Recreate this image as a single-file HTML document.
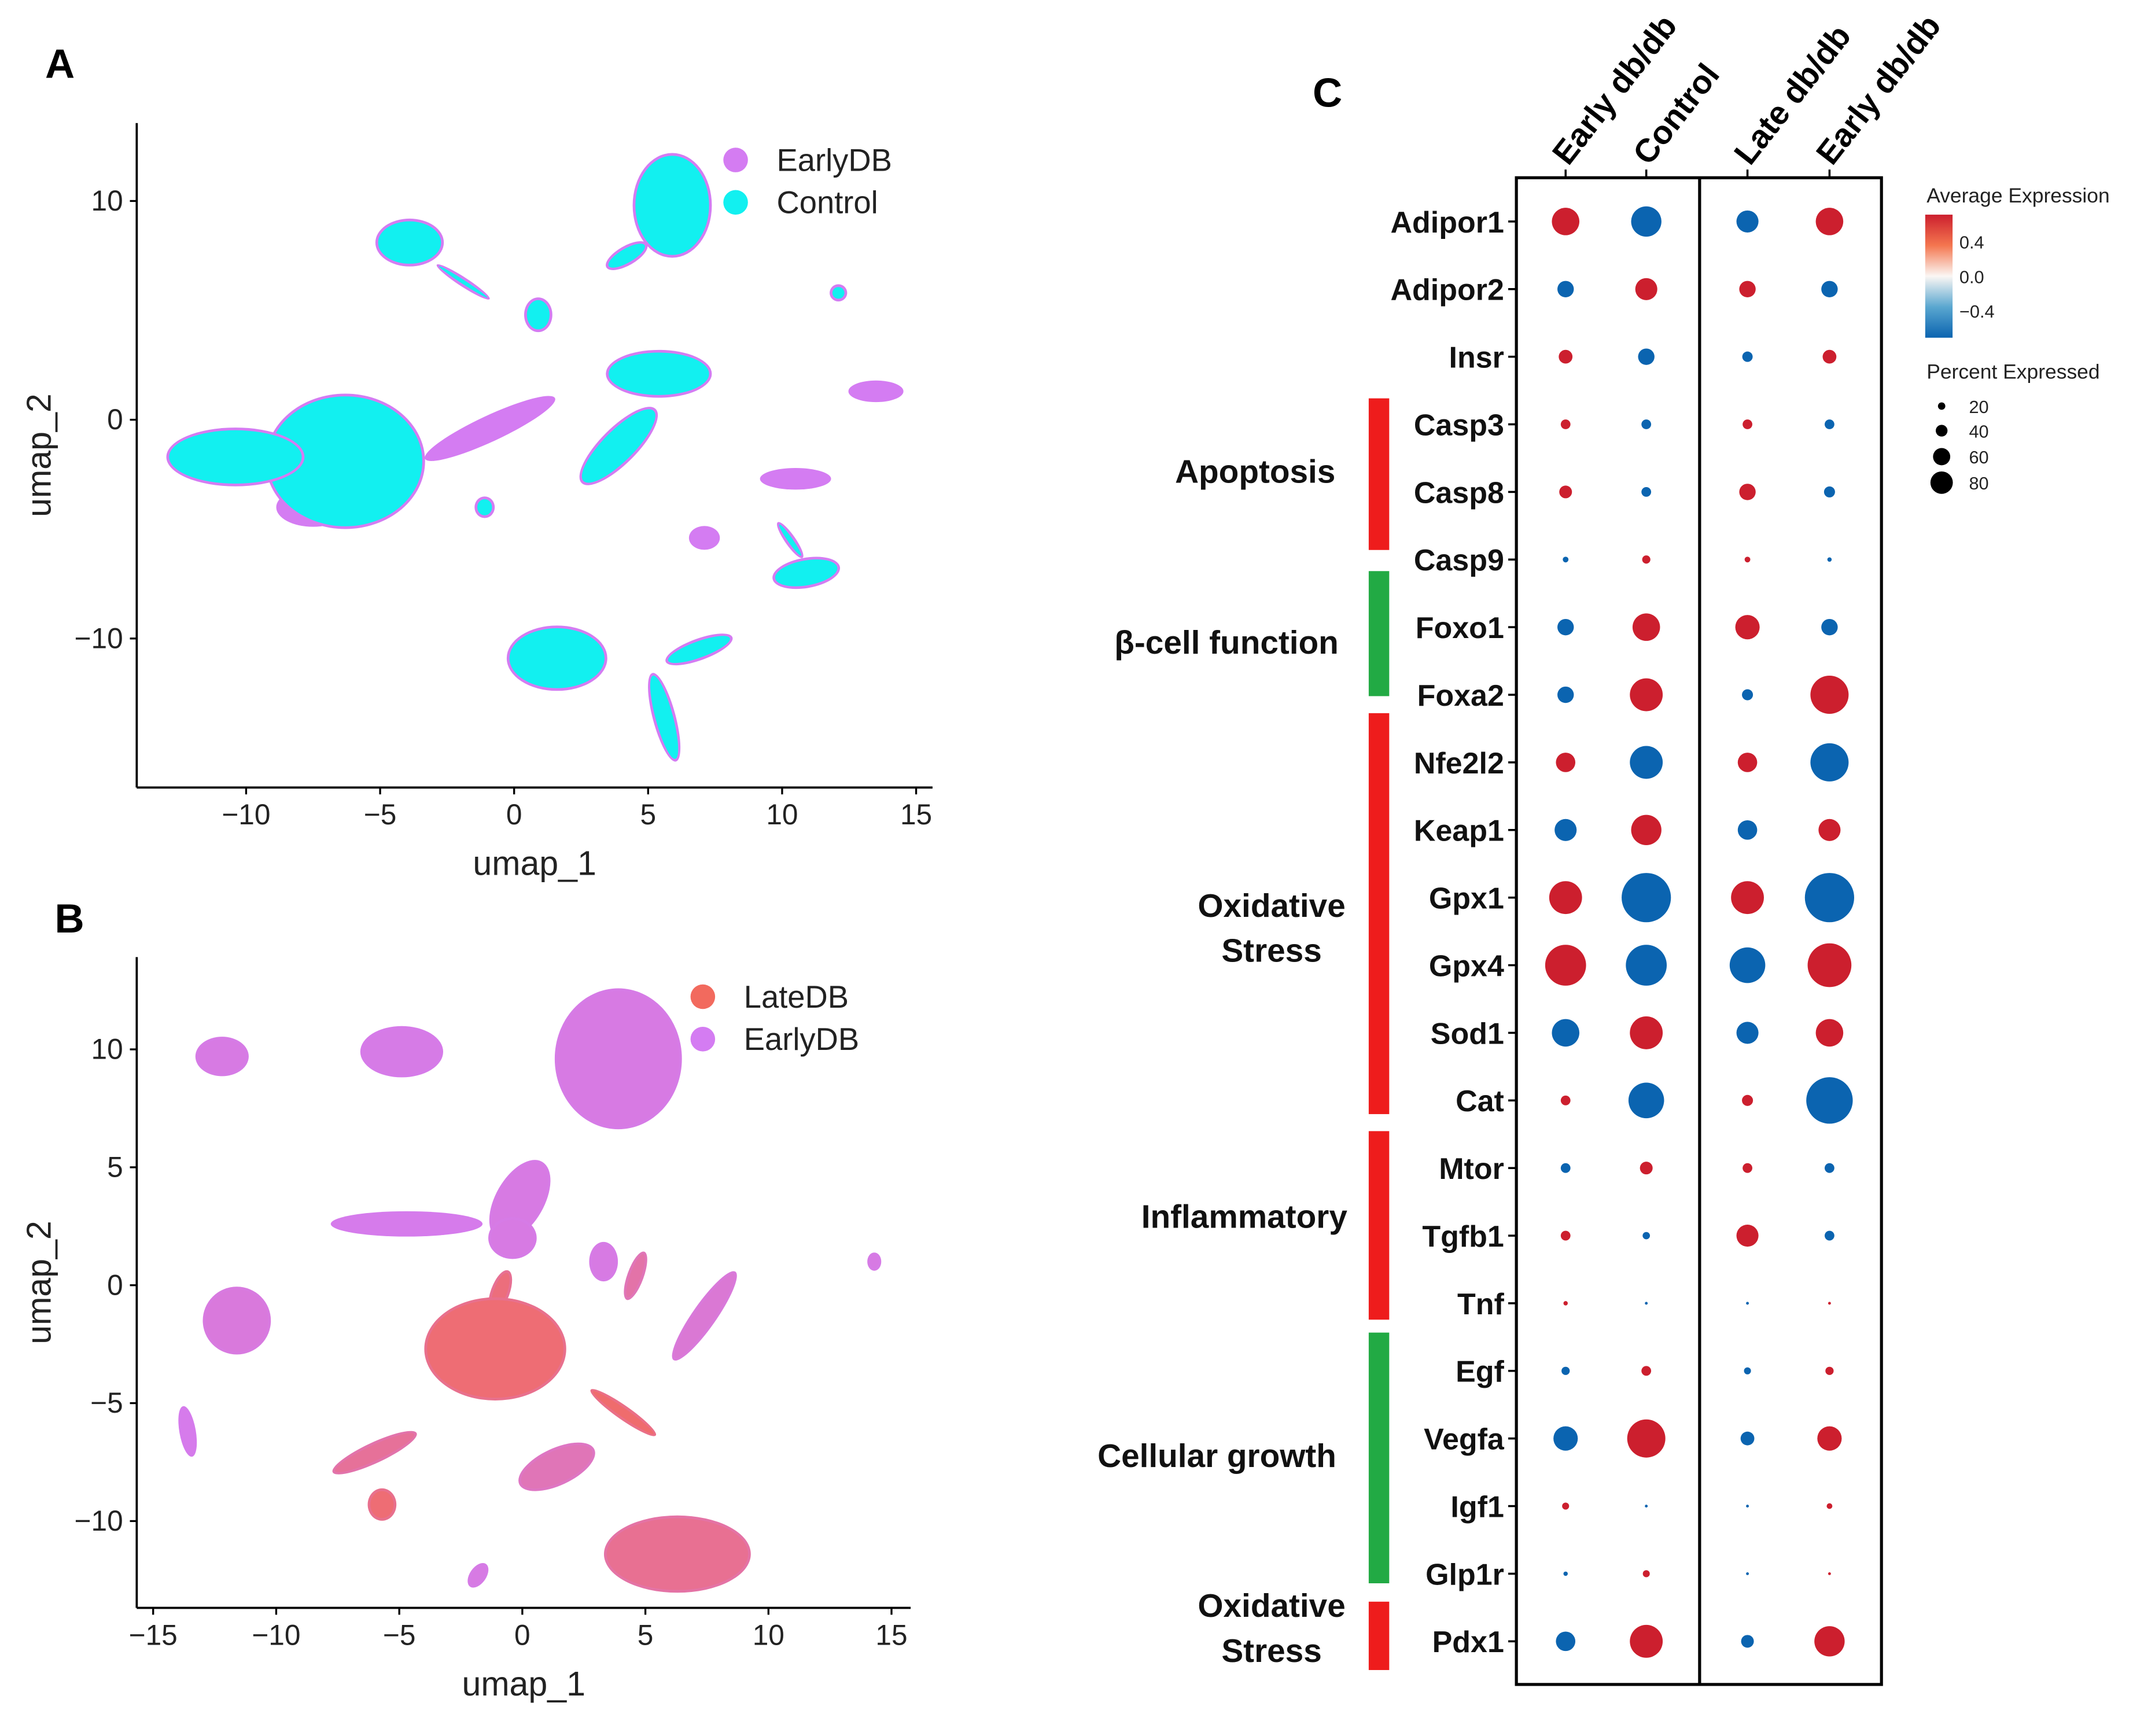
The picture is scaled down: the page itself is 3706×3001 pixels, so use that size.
<!DOCTYPE html>
<html><head><meta charset="utf-8"><style>
html,body{margin:0;padding:0;background:#fff;}
svg{display:block;font-family:"Liberation Sans",Arial,sans-serif;}
</style></head><body>
<svg id="fig" width="3706" height="3001" viewBox="0 0 1568 1269.7" preserveAspectRatio="none" xmlns="http://www.w3.org/2000/svg">
<defs>
<linearGradient id="grad" x1="0" y1="0" x2="0" y2="1">
<stop offset="0" stop-color="#cc1f2e"/><stop offset="0.25" stop-color="#f4764f"/><stop offset="0.5" stop-color="#fbf7f4"/><stop offset="0.75" stop-color="#5aa7d0"/><stop offset="1" stop-color="#0b64b0"/>
</linearGradient>
</defs>
<g id="pa"></g>
<g id="pb"></g>
<g id="pc"></g>
</svg>
<script>
// ---------- Panel A data (umap coords) ----------
const aClustX=[-7.5,-0.9,-6.3,-10.4,-3.9,-1.9,5.9,4.2,0.9,5.4,3.9,13.5,12.1,10.5,7.1,10.9,10.3,-1.1,1.6,6.9,5.6];
const aClustY=[-4.0,-0.4,-1.9,-1.7,8.1,6.3,9.8,7.5,4.8,2.1,-1.2,1.3,5.8,-2.7,-5.4,-7.0,-5.5,-4.0,-10.9,-10.5,-13.6];
const aClustRX=[1.3,2.6,2.9,2.5,1.2,1.1,1.4,0.8,0.45,1.9,0.6,0.95,0.25,1.25,0.5,1.2,0.12,0.3,1.8,1.25,0.35];
const aClustRY=[0.8,0.5,3.0,1.25,1.0,0.12,2.3,0.35,0.7,1.0,2.3,0.4,0.3,0.4,0.45,0.6,0.9,0.4,1.4,0.4,2.0];
const aClustRot=[0,-25,0,0,0,33,0,-30,0,0,45,0,0,0,0,-10,-35,0,0,-20,-15];
const aClustCyan=[0,0,1,1,1,1,1,1,1,1,1,0,1,0,0,1,1,1,1,1,1];
const aXTicks=[-10,-5,0,5,10,15];
const aYTicks=[10,0,-10];
// ---------- Panel B data ----------
const bClustX=[3.9,-12.2,-4.9,-4.7,-0.1,-0.9,-1.1,-11.6,6.3,7.4,3.3,4.6,-13.6,-6.0,-5.7,1.4,4.1,-1.8,14.3,-0.4];
const bClustY=[9.6,9.7,9.9,2.6,3.6,-0.3,-2.7,-1.5,-11.4,-1.3,1.0,0.4,-6.2,-7.1,-9.3,-7.7,-5.4,-12.3,1.0,2.0];
const bClustRX=[2.5,1.0,1.6,3.0,0.9,0.3,2.8,1.3,2.9,0.4,0.5,0.25,0.25,1.8,0.5,1.6,0.2,0.25,0.2,0.9];
const bClustRY=[2.9,0.75,1.0,0.45,1.8,0.9,2.1,1.35,1.55,2.2,0.75,1.0,1.0,0.35,0.6,0.7,1.6,0.5,0.3,0.8];
const bClustRed=[0.1,0.1,0.08,0.05,0.1,0.8,0.85,0.15,0.65,0.2,0.1,0.5,0.05,0.6,0.85,0.4,0.9,0.1,0.1,0.1];
const bClustRot=[0,0,0,0,30,20,0,0,0,35,0,20,-10,-25,0,-25,-55,35,0,0];
const bXTicks=[-15,-10,-5,0,5,10,15];
const bYTicks=[10,5,0,-5,-10];
// ---------- Panel C data ----------
const genes=["Adipor1","Adipor2","Insr","Casp3","Casp8","Casp9","Foxo1","Foxa2","Nfe2l2","Keap1","Gpx1","Gpx4","Sod1","Cat","Mtor","Tgfb1","Tnf","Egf","Vegfa","Igf1","Glp1r","Pdx1"];
const groups=["Early db/db","Control","Late db/db","Early db/db"];
const pct=[
[28,34,18,28],[10,18,10,10],[7,10,4,7],[3.5,3.5,3.5,3.5],[6,3.5,10,4.5],[1.2,2.5,1.2,0.7],
[10,28,22,10],[10,40,4.5,54],[14,40,14,54],[18,34,14,18],[40,90,40,90],[62,62,47,71],
[28,40,18,28],[3.5,47,4.5,80],[3.5,6,3.5,3.5],[3.5,2,18,3.5],[0.7,0.3,0.3,0.3],[2.5,3.5,1.8,2.5],
[22,54,7,22],[1.8,0.3,0.3,1.2],[0.7,1.8,0.3,0.3],[14,40,6,34]];
const expr=[
[1,-1,-1,1],[-1,1,1,-1],[1,-1,-1,1],[1,-1,1,-1],[1,-1,1,-1],[-1,1,1,-1],
[-1,1,1,-1],[-1,1,-1,1],[1,-1,1,-1],[-1,1,-1,1],[1,-1,1,-1],[1,-1,-1,1],
[-1,1,-1,1],[1,-1,1,-1],[-1,1,1,-1],[1,-1,1,-1],[1,-1,-1,1],[-1,1,-1,1],
[-1,1,-1,1],[1,-1,-1,1],[-1,1,-1,1],[-1,1,-1,1]];
const categories=[["Apoptosis",3,5,"#ee1c1c"],["β-cell function",6,7,"#22aa44"],["Oxidative\nStress",8,13,"#ee1c1c"],["Inflammatory",14,16,"#ee1c1c"],["Cellular growth",17,20,"#22aa44"],["Oxidative\nStress",21,21,"#ee1c1c"]];
const colorTicks=[0.4,0.0,-0.4];
const sizeLegend=[20,40,60,80];
// layout (not data)
const catTopPad=[-19,-41,-36,-27,-28,-29];
const catBotPad=[-7,1,10,12,7,21];
const catLabelY=[353,478,687,898,1073,1199];
const catLabelX=[918,897,930,910,890,930];

const NS="http://www.w3.org/2000/svg";
function mk(p,t,a,txt){const e=document.createElementNS(NS,t);for(const k in a)e.setAttribute(k,a[k]);if(txt!==undefined)e.textContent=txt;p.appendChild(e);return e;}

function umapPanel(g,o){
  const sx=v=>o.x0+v*o.kx, sy=v=>o.y0-v*o.ky;
  for(let i=0;i<o.cx.length;i++){
    const cx=sx(o.cx[i]),cy=sy(o.cy[i]),rx=o.rx[i]*o.kx,ry=o.ry[i]*o.ky;
    const tr=`rotate(${o.rot[i]} ${cx} ${cy})`;
    const e1=mk(g,'ellipse',{cx,cy,rx:rx+1.5,ry:ry+1.5,fill:o.outer(i),transform:tr});
    
    
    const e2=mk(g,'ellipse',{cx,cy,rx:Math.max(rx-0.5,0.5),ry:Math.max(ry-0.5,0.5),fill:o.inner(i),transform:tr});
    
    
  }
  mk(g,'line',{x1:o.L,y1:o.T,x2:o.L,y2:o.B,stroke:'#000','stroke-width':1.6});
  mk(g,'line',{x1:o.L,y1:o.B,x2:o.R,y2:o.B,stroke:'#000','stroke-width':1.6});
  o.xt.forEach(v=>{const x=sx(v);mk(g,'line',{x1:x,y1:o.B,x2:x,y2:o.B+5,stroke:'#000','stroke-width':1.4});
    const t=mk(g,'text',{x,y:o.B+27,'font-size':21,'text-anchor':'middle',fill:'#222'},v<0?'−'+(-v):String(v));
    });
  o.yt.forEach(v=>{const y=sy(v);mk(g,'line',{x1:o.L-5,y1:y,x2:o.L,y2:y,stroke:'#000','stroke-width':1.4});
    const t=mk(g,'text',{x:o.L-10,y:y+7,'font-size':21,'text-anchor':'end',fill:'#222'},v<0?'−'+(-v):String(v));
    });
  const xt=mk(g,'text',{x:(o.L+o.R)/2,y:o.B+64,'font-size':25,'text-anchor':'middle',fill:'#222'},'umap_1');
  
  const yt=mk(g,'text',{x:0,y:0,'font-size':25,'text-anchor':'middle',fill:'#222',transform:`translate(${o.L-63},${(o.T+o.B)/2}) rotate(-90)`},'umap_2');
  
  const pl=mk(g,'text',{x:o.lx,y:o.ly,'font-size':30,'font-weight':'bold'},o.label);
  
  o.legend.forEach((l,i)=>{
    const c=mk(g,'circle',{cx:o.legX,cy:o.legY+i*31,r:9,fill:l[1]});
    
    const t=mk(g,'text',{x:o.legX+30,y:o.legY+i*31+8,'font-size':23,fill:'#222'},l[0]);
    
  });
}
const PUR='#d47cf2',CY='#12f0f0',RED='#f26a5e';
umapPanel(document.getElementById('pa'),{x0:376,kx:19.6,y0:307,ky:16,L:100,R:682,T:90,B:576,
  cx:aClustX,cy:aClustY,rx:aClustRX,ry:aClustRY,rot:aClustRot,xt:aXTicks,yt:aYTicks,
  outer:()=>PUR,inner:i=>aClustCyan[i]?CY:PUR,label:'A',lx:33,ly:57,legX:538,legY:117,legend:[['EarlyDB',PUR],['Control',CY]]});
function mix(a,b,t){const p=s=>[1,3,5].map(i=>parseInt(s.substr(i,2),16));const A=p(a),B=p(b);return 'rgb('+A.map((v,i)=>Math.round(v+(B[i]-v)*t)).join(',')+')';}
umapPanel(document.getElementById('pb'),{x0:382,kx:18,y0:940,ky:17.25,L:100,R:666,T:700,B:1176,
  cx:bClustX,cy:bClustY,rx:bClustRX,ry:bClustRY,rot:bClustRot,xt:bXTicks,yt:bYTicks,
  outer:i=>mix(PUR,RED,bClustRed[i]*0.8),inner:i=>mix(PUR,RED,bClustRed[i]),label:'B',lx:40,ly:682,legX:514,legY:729,legend:[['LateDB',RED],['EarlyDB',PUR]]});

// ---------- Panel C ----------
const pc=document.getElementById('pc');
const colX=i=>[1145,1204,1278,1338][i];
const rowY=i=>162+i*49.45;
const rScale=p=>1.9*Math.sqrt(p);
const col=v=>v>0?'#cc1f2e':'#0b64b0';
mk(pc,'rect',{x:1109,y:130,width:267,height:1102,fill:'none',stroke:'#000','stroke-width':2.2});
mk(pc,'line',{x1:1243,y1:130,x2:1243,y2:1232,stroke:'#000','stroke-width':2.2});
groups.forEach((gname,j)=>{
  mk(pc,'line',{x1:colX(j),y1:124,x2:colX(j),y2:130,stroke:'#000','stroke-width':1.5});
  const t=mk(pc,'text',{x:0,y:0,'font-size':24,'font-weight':'bold',transform:`translate(${colX(j)+2},${122}) rotate(-52)`},gname);
  
});
genes.forEach((gn,i)=>{
  const y=rowY(i);
  mk(pc,'line',{x1:1103,y1:y,x2:1109,y2:y,stroke:'#000','stroke-width':1.5});
  const t=mk(pc,'text',{x:1100,y:y+8,'font-size':22,'font-weight':'bold','text-anchor':'end',fill:'#111'},gn);
  
  for(let j=0;j<4;j++){
    const c=mk(pc,'circle',{cx:colX(j),cy:y,r:rScale(pct[i][j]),fill:col(expr[i][j])});
    
    
  }
});
const tt=mk(pc,'text',{x:960,y:78,'font-size':30,'font-weight':'bold'},'C');

categories.forEach((c,ci)=>{
  const y1=rowY(c[1])+catTopPad[ci], y2=rowY(c[2])+catBotPad[ci];
  const r=mk(pc,'rect',{x:1001,y:y1,width:15,height:y2-y1,fill:c[3]});
  
  const lines=c[0].split('\n');
  lines.forEach((ln,k)=>{
    const yy=catLabelY[ci]+(k-(lines.length-1)/2)*33;
    const t=mk(pc,'text',{x:catLabelX[ci],y:yy,'font-size':24,'font-weight':'bold','text-anchor':'middle',fill:'#111'},ln);
    
  });
});
const lt=mk(pc,'text',{x:1409,y:148,'font-size':15,fill:'#222'},'Average Expression');

const gb=mk(pc,'rect',{x:1408,y:157,width:20,height:90,fill:'url(#grad)'});

colorTicks.forEach(v=>{const y=202-v*63;
  const t=mk(pc,'text',{x:1433,y:y+5,'font-size':13,fill:'#222'},v<0?'−'+(-v).toFixed(1):v.toFixed(1));
  });
const st=mk(pc,'text',{x:1409,y:277,'font-size':15,fill:'#222'},'Percent Expressed');

sizeLegend.forEach((v,i)=>{const y=[297,315,334,353][i];
  const c=mk(pc,'circle',{cx:1420,cy:y,r:[2.7,4.3,6.3,8.2][i],fill:'#000'});
  
  const t=mk(pc,'text',{x:1440,y:y+5,'font-size':13,fill:'#222'},String(v));
  });
</script>
</body></html>
